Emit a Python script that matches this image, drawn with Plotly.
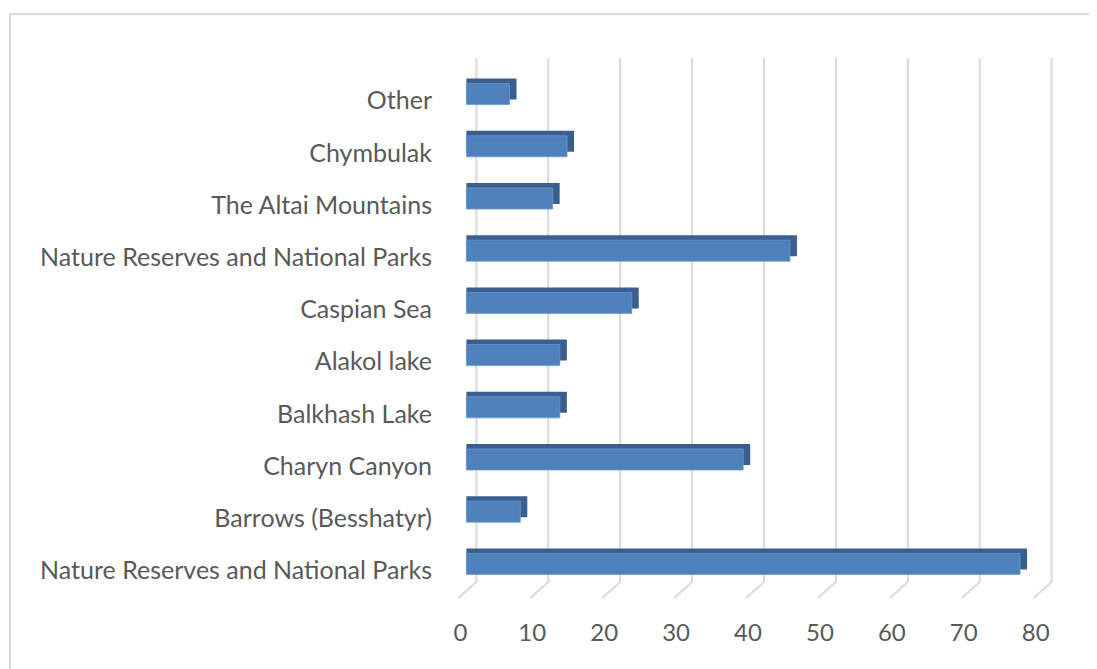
import plotly.graph_objects as go

categories = [
    "Nature Reserves and National Parks",
    "Barrows (Besshatyr)",
    "Charyn Canyon",
    "Balkhash Lake",
    "Alakol lake",
    "Caspian Sea",
    "Nature Reserves and National Parks",
    "The Altai Mountains",
    "Chymbulak",
    "Other",
]
values = [77, 7.5, 38.5, 13, 13, 23, 45, 12, 14, 6]
x_ticks = [0, 10, 20, 30, 40, 50, 60, 70, 80]

W, H = 1097, 669
OFF = 8  # page body margin
UPX = 7.2                 # pixels per data unit on the front plane
X0_PAGE = 466             # page x of value 0 on the front plane
xr = (-2, 82)
# page-pixel geometry of the plot area
P_LEFT = X0_PAGE + xr[0] * UPX
P_RIGHT = X0_PAGE + xr[1] * UPX
P_TOP, P_BOTTOM = 68, 590
plot_left, plot_right = P_LEFT - OFF, P_RIGHT - OFF
plot_top, plot_bottom = P_TOP - OFF, P_BOTTOM - OFF

pw = plot_right - plot_left
ph = plot_bottom - plot_top
upx = pw / (xr[1] - xr[0])
n = len(categories)
upy = ph / n

positions = list(range(n))
face_w = 21 / upy
bevel = 5 / upy
side = 7 / upx

fig = go.Figure()
# depth (top bevel + right side) of the 3D bars
fig.add_trace(go.Bar(
    y=positions,
    x=[v + side for v in values],
    orientation="h",
    width=face_w,
    offset=-face_w / 2 + bevel,
    marker=dict(color="#3A5F8E", line=dict(width=0)),
    showlegend=False,
    hoverinfo="skip",
))
# front face
fig.add_trace(go.Bar(
    y=positions,
    x=values,
    orientation="h",
    width=face_w,
    offset=-face_w / 2,
    marker=dict(color="#4F81BD", line=dict(color="#6E97CB", width=0.8)),
    showlegend=False,
    hovertext=categories,
))
# helper trace for the label axes
fig.add_trace(go.Scatter(
    x=[x_ticks[0]], y=[positions[0]], xaxis="x2", yaxis="y2",
    mode="markers", marker=dict(opacity=0), showlegend=False, hoverinfo="skip",
))

shapes = []
back_dx = 10 / upx                  # back wall is shifted right of the front plane
g_bottom = (P_BOTTOM - 582) / ph
g_top = 1 + (P_TOP - 58) / ph
for t in x_ticks:
    shapes.append(dict(
        type="line", xref="x", yref="paper",
        x0=t + back_dx, x1=t + back_dx, y0=g_bottom, y1=g_top,
        line=dict(color="#D9D9D9", width=2), layer="below",
    ))
    shapes.append(dict(
        type="line", xref="x", yref="paper",
        x0=t + back_dx, y0=g_bottom,
        x1=t + back_dx - 18 / upx, y1=g_bottom - 16 / ph,
        line=dict(color="#D9D9D9", width=2), layer="below",
    ))

def px_to_paper_x(px):
    return (px - P_LEFT) / pw

def px_to_paper_y(py):
    return (P_BOTTOM - py) / ph

# chart area border
shapes.append(dict(
    type="rect", xref="paper", yref="paper",
    x0=px_to_paper_x(9), x1=px_to_paper_x(1130),
    y0=px_to_paper_y(720), y1=px_to_paper_y(14),
    line=dict(color="#D9D9D9", width=2),
    fillcolor="rgba(0,0,0,0)", layer="below",
))

label_dx = 6 / upx       # x labels sit left of the front plane ticks
label_dy = 6.5 / upy     # y labels sit slightly below the bar centres
label_right = 433        # page x where the category labels end

fig.update_layout(
    width=W, height=H,
    margin=dict(l=plot_left, r=W - plot_right, t=plot_top, b=H - plot_bottom, autoexpand=False),
    paper_bgcolor="white",
    plot_bgcolor="rgba(0,0,0,0)",
    barmode="overlay",
    font=dict(family="Lato, Carlito, Calibri, sans-serif", size=25, color="#595959"),
    shapes=shapes,
    xaxis=dict(
        range=list(xr), showgrid=False, zeroline=False, showline=False,
        showticklabels=False, ticks="",
    ),
    yaxis=dict(
        range=[-0.5, n - 0.5], showgrid=False, zeroline=False, showline=False,
        showticklabels=False, ticks="",
    ),
    xaxis2=dict(
        overlaying="x", side="bottom",
        range=[xr[0] + label_dx, xr[1] + label_dx],
        tickvals=x_ticks, showgrid=False, zeroline=False, showline=False,
        ticklabelstandoff=26,
        tickfont=dict(size=24, color="#595959"),
    ),
    yaxis2=dict(
        overlaying="y", side="left",
        range=[-0.5 + label_dy, n - 0.5 + label_dy],
        tickvals=positions, ticktext=categories,
        showgrid=False, zeroline=False, showline=False,
        ticklabelstandoff=int(round(P_LEFT - label_right)),
        tickfont=dict(size=25, color="#595959"),
    ),
)

fig.write_html("out.html")
